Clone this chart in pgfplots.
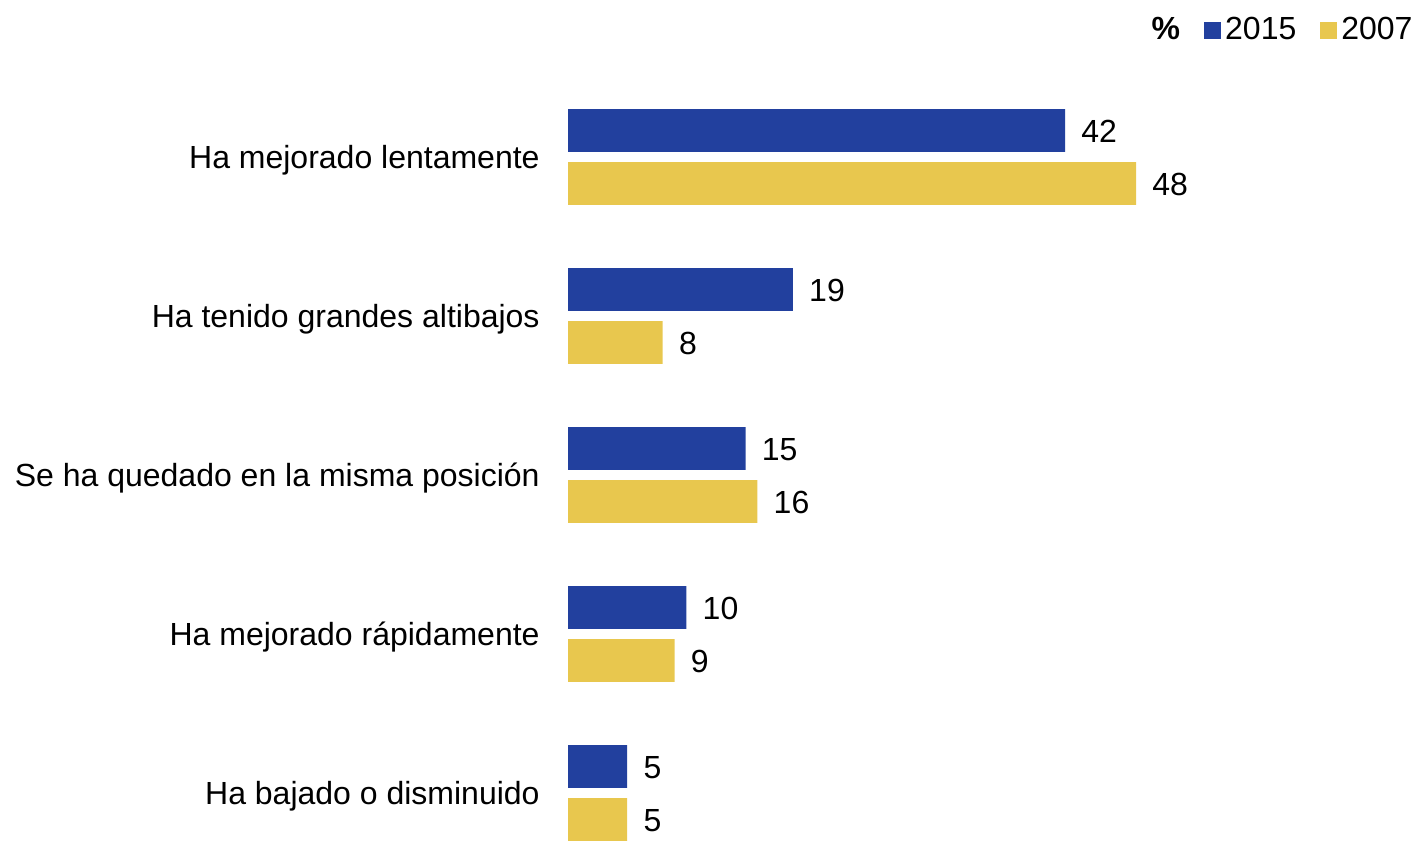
\documentclass[border=0pt]{standalone}
\usepackage{pgfplots}
\pgfplotsset{compat=1.18}
\usepackage{fontspec}
\setmainfont{Liberation Sans}
\definecolor{cblue}{HTML}{22409E}
\definecolor{cyel}{HTML}{E8C74E}
\begin{document}
\fontsize{16}{19}\selectfont
\begin{tikzpicture}
\useasboundingbox (0,0) rectangle (708.5pt,420.5pt);
\begin{axis}[
  at={(284pt,0.15pt)}, anchor=south west,
  scale only axis, width=355pt, height=385.575pt,
  xbar, clip=false,
  xmin=0, xmax=60, ymin=-0.55, ymax=4.3, y dir=reverse,
  axis line style={draw=none}, major tick length=0pt,
  xtick=\empty,
  ytick={0,1,2,3,4},
  yticklabels={Ha mejorado lentamente, Ha tenido grandes altibajos, Se ha quedado en la misma posición, Ha mejorado rápidamente, Ha bajado o disminuido},
  yticklabel style={anchor=east, inner sep=0pt, xshift=-14pt, yshift=-1.5pt, font=\fontsize{16}{19}\selectfont},
  bar width=0.27,
  /pgf/number format/assume math mode=true,
  nodes near coords,
  every node near coord/.append style={anchor=west, inner sep=0pt, xshift=8pt, yshift=-0.5pt, font=\fontsize{16}{19}\selectfont, text=black},
  legend style={draw=none, fill=none, at={(1.1957,1.05)}, anchor=east, legend columns=-1, inner sep=0pt,
    font=\fontsize{16}{19}\selectfont,
    /tikz/every even column/.append style={column sep=10pt}},
  legend image code/.code={\fill[#1] (0pt,-4.25pt) rectangle (8.5pt,4.25pt);},
]
\addlegendimage{empty legend}
\addplot[fill=cblue, draw=none, bar shift=-0.1667] coordinates {(42,0) (19,1) (15,2) (10,3) (5,4)};
\addplot[fill=cyel, draw=none, bar shift=0.1667] coordinates {(48,0) (8,1) (16,2) (9,3) (5,4)};
\legend{\textbf{\%},2015,2007}
\end{axis}
\end{tikzpicture}
\end{document}
